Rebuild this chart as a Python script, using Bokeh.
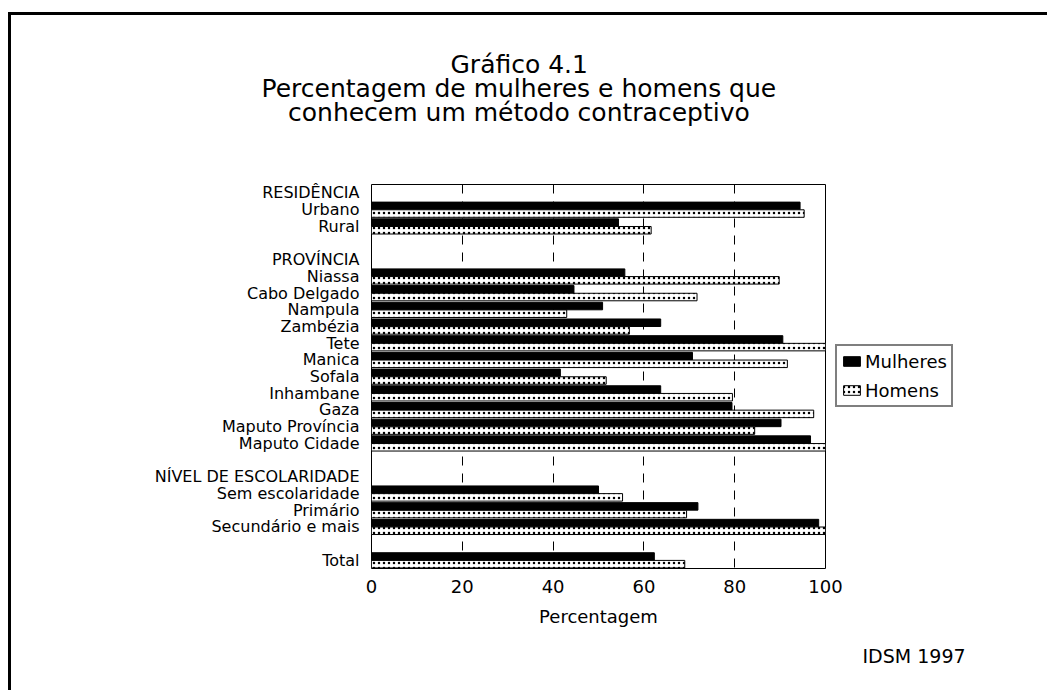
from bokeh.plotting import figure
from bokeh.models import Range1d, FixedTicker, Legend, LegendItem, ColumnDataSource, Title
from bokeh.embed import file_html
from bokeh.resources import INLINE

row_labels = ["RESIDÊNCIA", "Urbano", "Rural", "",
              "PROVÍNCIA", "Niassa", "Cabo Delgado", "Nampula", "Zambézia", "Tete",
              "Manica", "Sofala", "Inhambane", "Gaza", "Maputo Província", "Maputo Cidade", "",
              "NÍVEL DE ESCOLARIDADE", "Sem escolaridade", "Primário", "Secundário e mais", "",
              "Total"]
mulheres = [None, 94.4, 54.4, None,
            None, 55.8, 44.6, 50.9, 63.7, 90.6, 70.7, 41.6, 63.7, 79.4, 90.2, 96.7, None,
            None, 50.0, 71.9, 98.5, None,
            62.3]
homens = [None, 95.3, 61.6, None,
          None, 89.8, 71.7, 43.0, 56.8, 100.0, 91.6, 51.7, 79.5, 97.4, 84.4, 100.0, None,
          None, 55.3, 69.4, 100.0, None,
          69.0]
x_ticks = [0, 20, 40, 60, 80, 100]
series_names = ["Mulheres", "Homens"]
title_lines = ["Gráfico 4.1", "Percentagem de mulheres e homens que",
               "conhecem um método contraceptivo"]
x_label = "Percentagem"
source_note = "IDSM 1997"

FONT = "DejaVu Sans"
n = len(row_labels)
centers = [i + 0.5 for i in range(n)]

p = figure(frame_width=454, frame_height=384,
           min_border_left=360, min_border_top=169, min_border_right=220, min_border_bottom=122,
           x_range=Range1d(0, 100), y_range=Range1d(n, 0),
           output_backend="svg", toolbar_location=None, title=None)
p.styles = {"border-left": "3px solid black", "border-top": "3px solid black",
            "margin-top": "12px", "margin-left": "8px"}

src_m = ColumnDataSource(dict(
    y=[c - 0.22 for c, v in zip(centers, mulheres) if v is not None],
    right=[v for v in mulheres if v is not None]))
src_h = ColumnDataSource(dict(
    y=[c + 0.24 for c, v in zip(centers, homens) if v is not None],
    right=[v for v in homens if v is not None]))

r_m = p.hbar(y="y", left=0, right="right", height=0.45, source=src_m,
             fill_color="black", line_color="black", line_width=1)
r_h = p.hbar(y="y", left=0, right="right", height=0.45, source=src_h,
             fill_color="white", line_color="black", line_width=1,
             hatch_pattern="dot", hatch_color="black", hatch_scale=5, hatch_weight=1)

p.outline_line_color = "black"
p.outline_line_alpha = 1
p.outline_line_width = 1

xa = p.xaxis[0]
xa.ticker = FixedTicker(ticks=x_ticks)
xa.axis_line_color = None
xa.major_tick_out = 0
xa.major_tick_in = 0
xa.minor_tick_line_color = None
xa.major_label_text_font = FONT
xa.major_label_text_font_size = "18px"
xa.major_label_text_color = "black"
xa.major_label_standoff = 11
xa.axis_label = x_label
xa.axis_label_text_font = FONT
xa.axis_label_text_font_size = "18px"
xa.axis_label_text_font_style = "normal"
xa.axis_label_text_color = "black"
xa.axis_label_standoff = 10

ya = p.yaxis[0]
ya.ticker = FixedTicker(ticks=centers)
ya.major_label_overrides = {c: lab for c, lab in zip(centers, row_labels)}
ya.axis_line_color = None
ya.major_tick_out = 0
ya.major_tick_in = 0
ya.minor_tick_line_color = None
ya.major_label_text_font = FONT
ya.major_label_text_font_size = "16px"
ya.major_label_text_color = "black"
ya.major_label_standoff = 12

p.ygrid.grid_line_color = None
p.xgrid.grid_line_color = "black"
p.xgrid.grid_line_dash = "9 8"
p.xgrid.grid_line_width = 1

legend = Legend(items=[LegendItem(label=series_names[0], renderers=[r_m]),
                       LegendItem(label=series_names[1], renderers=[r_h])],
                location=(10, 161))
legend.border_line_color = "black"
legend.border_line_width = 2
legend.padding = 4
legend.spacing = 7
legend.margin = 0
legend.glyph_width = 21
legend.glyph_height = 12
legend.label_height = 22
legend.label_standoff = 3
legend.label_text_font = FONT
legend.label_text_font_size = "18px"
legend.label_text_color = "black"
p.add_layout(legend, "right")

# spacer closest to the frame, then the three title lines (innermost first)
p.add_layout(Title(text=" ", standoff=29.75, text_font=FONT, text_font_size="25px"), "above")
line_offsets = [79, -110, -83.5]
for txt, off in reversed(list(zip(title_lines, line_offsets))):
    p.add_layout(Title(text=txt, align="left", offset=off, standoff=-7.5,
                       text_font=FONT, text_font_size="25px", text_font_style="normal",
                       text_color="black"), "above")

p.add_layout(Title(text=source_note, align="left", offset=491, standoff=26,
                   text_font=FONT, text_font_size="19px", text_font_style="normal",
                   text_color="black"), "below")

open("out.html", "w").write(file_html(p, INLINE))
